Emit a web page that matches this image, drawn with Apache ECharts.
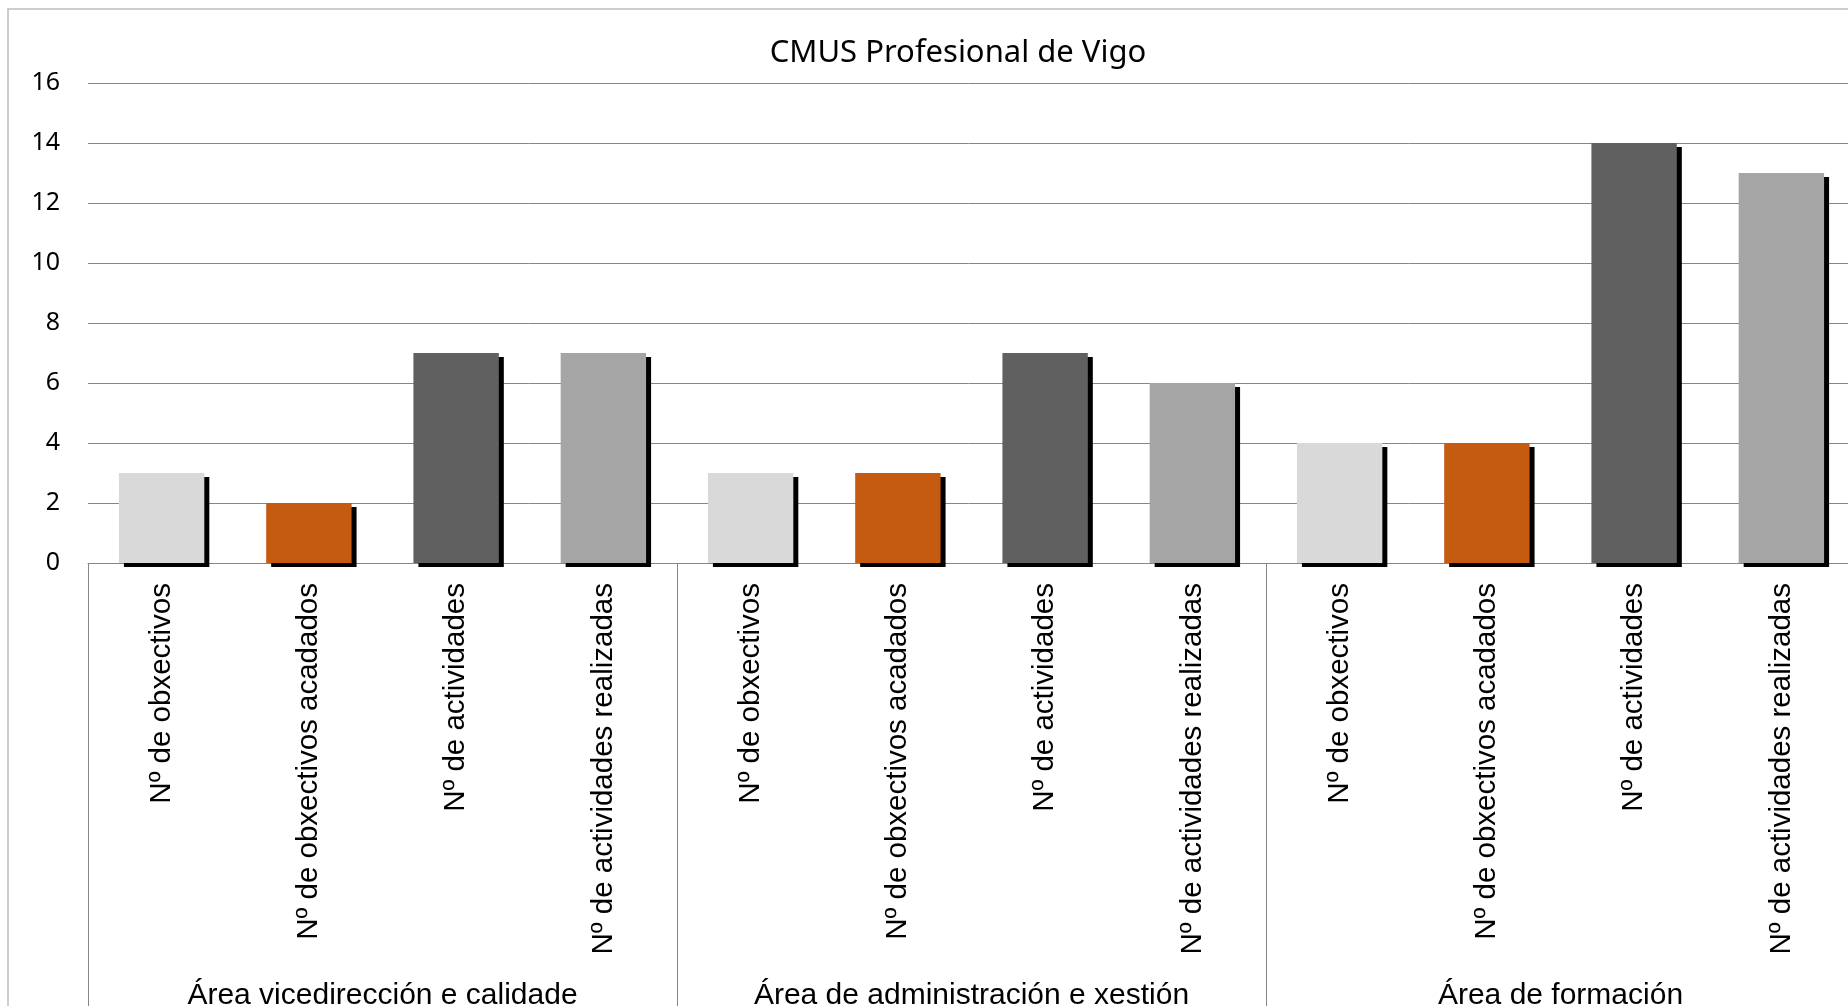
<!DOCTYPE html>
<html>
<head>
<meta charset="utf-8">
<script src="https://cdn.jsdelivr.net/npm/echarts@6/dist/echarts.min.js"></script>
<style>
html,body{margin:0;padding:0;background:#fff;}
#chart{width:1848px;height:1006px;}
</style>
</head>
<body>
<div id="chart"></div>
<script>
var titleText = 'CMUS Profesional de Vigo';
var groups = ['Área vicedirección e calidade', 'Área de administración e xestión', 'Área de formación'];
var measures = ['Nº de obxectivos', 'Nº de obxectivos acadados', 'Nº de actividades', 'Nº de actividades realizadas'];
var valuesVicedireccion = [3, 2, 7, 7];
var valuesAdministracion = [3, 3, 7, 6];
var valuesFormacion = [4, 4, 14, 13];
var measureColors = ['#D9D9D9', '#C55A11', '#606060', '#A5A5A5'];
var yTicks = [0, 2, 4, 6, 8, 10, 12, 14, 16];

var categories = [];
var values = [];
[valuesVicedireccion, valuesAdministracion, valuesFormacion].forEach(function (arr) {
  arr.forEach(function (v, i) {
    categories.push(measures[i]);
    values.push(v);
  });
});

var chart = echarts.init(document.getElementById('chart'), null, {renderer: 'canvas'});
var gridColor = '#868686';
chart.setOption({
  backgroundColor: '#ffffff',
  animation: false,
  title: {
    text: titleText,
    left: 953,
    textAlign: 'center',
    top: 33,
    textStyle: {fontFamily: 'Noto Sans', fontSize: 31, fontWeight: 'normal', color: '#000'}
  },
  graphic: [{
    type: 'rect',
    shape: {x: 8, y: 9, width: 1900, height: 1100},
    style: {fill: 'none', stroke: '#BDBDBD', lineWidth: 1.5},
    silent: true,
    z: -1
  }],
  grid: {left: 88, top: 83, width: 1767, height: 480, containLabel: false, outerBoundsMode: 'none'},
  xAxis: [{
    type: 'category',
    data: categories,
    gridIndex: 0,
    position: 'bottom',
    axisLine: {show: true, lineStyle: {color: gridColor, width: 1}},
    axisTick: {show: false},
    axisLabel: {
      interval: 0, rotate: 90, margin: 20,
      fontFamily: 'Liberation Sans', fontSize: 29.5, color: '#000'
    },
    splitLine: {show: false}
  }, {
    type: 'category',
    data: groups,
    gridIndex: 0,
    position: 'bottom',
    axisLine: {show: false},
    axisTick: {show: true, length: 460, lineStyle: {color: gridColor, width: 1}},
    axisLabel: {
      interval: 0, margin: 418,
      fontFamily: 'Liberation Sans', fontSize: 30, color: '#000'
    },
    splitLine: {show: false}
  }],
  yAxis: {
    type: 'value',
    min: yTicks[0],
    max: yTicks[yTicks.length - 1],
    interval: 2,
    axisLine: {show: false},
    axisTick: {show: false},
    axisLabel: {margin: 28, fontFamily: 'Noto Sans', fontSize: 25, color: '#000'},
    splitLine: {show: true, lineStyle: {color: gridColor, width: 1}}
  },
  series: [{
    type: 'bar',
    xAxisIndex: 0,
    data: values.map(function (v, i) {
      return {
        value: v,
        itemStyle: {color: measureColors[i % measures.length]}
      };
    }),
    barWidth: '58%',
    itemStyle: {
      shadowColor: '#000000',
      shadowBlur: 0,
      shadowOffsetX: 5,
      shadowOffsetY: 4
    }
  }]
});
</script>
</body>
</html>
